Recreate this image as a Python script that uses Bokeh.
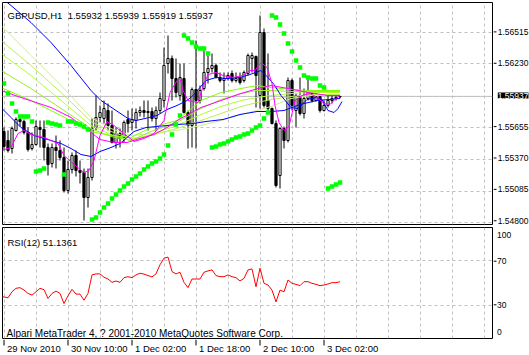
from bokeh.plotting import figure
from bokeh.layouts import column, row
from bokeh.models import Range1d, FixedTicker, Span, Label
from bokeh.embed import file_html
from bokeh.resources import INLINE

FONT = "Liberation Sans"

# ---------------- data (GBPUSD H1, bar index 0 = 29 Nov 2010 18:00) ----------------
bar_index = list(range(85))
open_ = [1.55621, 1.55540, 1.55468, 1.55630, 1.55729, 1.55711, 1.55612, 1.55468, 1.55504, 1.55657,
         1.55639, 1.55477, 1.55333, 1.55477, 1.55450, 1.55387, 1.55090, 1.55279, 1.55405, 1.55270,
         1.55252, 1.55027, 1.55207, 1.55657, 1.55747, 1.55738, 1.55810, 1.55675, 1.55522, 1.55603,
         1.55567, 1.55729, 1.55702, 1.55720, 1.55792, 1.55810, 1.55792, 1.55801, 1.55738, 1.55810,
         1.55900, 1.56233, 1.56278, 1.56098, 1.55945, 1.56098, 1.55792, 1.55675, 1.55999, 1.55900,
         1.56008, 1.56152, 1.56188, 1.56215, 1.56107, 1.56080, 1.56098, 1.56143, 1.56080, 1.56107,
         1.56080, 1.56143, 1.56278, 1.56296, 1.55945, 1.56512, 1.55900, 1.55828, 1.55693, 1.55225,
         1.55648, 1.55540, 1.56080, 1.55810, 1.55945, 1.55783, 1.55918, 1.55981, 1.55900, 1.55936,
         1.55810, 1.55855, 1.55900, 1.55927, 1.55932]
high = [1.55657, 1.55630, 1.55666, 1.55747, 1.55765, 1.55729, 1.55657, 1.55612, 1.55720, 1.55720,
        1.55720, 1.55513, 1.55513, 1.55585, 1.55540, 1.55477, 1.55360, 1.55432, 1.55450, 1.55360,
        1.55288, 1.55288, 1.55738, 1.55945, 1.55855, 1.55900, 1.55873, 1.55810, 1.55657, 1.55648,
        1.55720, 1.55810, 1.55828, 1.55828, 1.55846, 1.55900, 1.55900, 1.55837, 1.55846, 1.55972,
        1.56377, 1.56485, 1.56305, 1.56278, 1.56233, 1.56233, 1.55810, 1.56017, 1.56440, 1.56035,
        1.56350, 1.56305, 1.56323, 1.56233, 1.56152, 1.56152, 1.56152, 1.56170, 1.56152, 1.56152,
        1.56170, 1.56323, 1.56332, 1.56305, 1.56665, 1.56548, 1.56323, 1.55837, 1.55720, 1.55657,
        1.55666, 1.56107, 1.56098, 1.55963, 1.56107, 1.56008, 1.56098, 1.55990, 1.55990, 1.55945,
        1.55900, 1.55945, 1.55945, 1.55945, 1.55939]
low = [1.55450, 1.55432, 1.55423, 1.55621, 1.55666, 1.55594, 1.55441, 1.55450, 1.55495, 1.55477,
       1.55360, 1.55225, 1.55297, 1.55288, 1.55360, 1.55072, 1.55063, 1.55243, 1.55216, 1.55153,
       1.54820, 1.54937, 1.55180, 1.55630, 1.55702, 1.55693, 1.55630, 1.55513, 1.55468, 1.55477,
       1.55522, 1.55612, 1.55630, 1.55648, 1.55756, 1.55747, 1.55630, 1.55711, 1.55630, 1.55783,
       1.55837, 1.56143, 1.55900, 1.55927, 1.55900, 1.55783, 1.55468, 1.55477, 1.55468, 1.55873,
       1.55990, 1.56053, 1.56152, 1.56098, 1.56062, 1.55963, 1.56080, 1.56062, 1.56062, 1.56044,
       1.56062, 1.56125, 1.56152, 1.55837, 1.55828, 1.55837, 1.55810, 1.55684, 1.55117, 1.55108,
       1.55468, 1.55522, 1.55810, 1.55657, 1.55765, 1.55738, 1.55900, 1.55882, 1.55891, 1.55792,
       1.55801, 1.55837, 1.55873, 1.55900, 1.55919]
close = [1.55486, 1.55450, 1.55648, 1.55729, 1.55711, 1.55612, 1.55459, 1.55504, 1.55666, 1.55639,
         1.55477, 1.55324, 1.55477, 1.55450, 1.55387, 1.55090, 1.55279, 1.55405, 1.55270, 1.55252,
         1.55027, 1.55207, 1.55648, 1.55747, 1.55792, 1.55828, 1.55675, 1.55522, 1.55603, 1.55558,
         1.55702, 1.55693, 1.55729, 1.55792, 1.55810, 1.55792, 1.55801, 1.55738, 1.55810, 1.55918,
         1.56215, 1.56278, 1.56098, 1.55972, 1.56107, 1.55792, 1.55675, 1.55999, 1.55900, 1.55990,
         1.56152, 1.56188, 1.56215, 1.56107, 1.56080, 1.56098, 1.56125, 1.56080, 1.56098, 1.56062,
         1.56152, 1.56305, 1.56305, 1.56125, 1.56512, 1.55855, 1.55828, 1.55693, 1.55135, 1.55648,
         1.55540, 1.56080, 1.55855, 1.55945, 1.55783, 1.55918, 1.55981, 1.55900, 1.55936, 1.55810,
         1.55855, 1.55900, 1.55918, 1.55918, 1.55937]

# Parabolic SAR
sar = [1.56053, 1.55963, 1.55873, 1.55801, 1.55756, 1.55756, 1.55756, 1.55711, 1.55261, 1.55270,
       1.55288, 1.55702, 1.55693, 1.55684, 1.55675, 1.55234, 1.55711, 1.55711, 1.55693, 1.55684,
       1.55666, 1.55639, 1.54829, 1.54847, 1.54892, 1.54937, 1.54973, 1.55018, 1.55054, 1.55090,
       1.55126, 1.55153, 1.55189, 1.55216, 1.55243, 1.55279, 1.55306, 1.55333, 1.55351, 1.55378,
       1.55414, 1.55495, 1.55594, 1.55684, 1.55765, 1.56485, 1.56458, 1.56422, 1.56386, 1.56368,
       1.56368, 1.56323, 1.55477, 1.55486, 1.55504, 1.55513, 1.55531, 1.55549, 1.55567, 1.55576,
       1.55594, 1.55603, 1.55630, 1.55657, 1.55675, 1.55738, 1.55792, 1.56665, 1.56647, 1.56584,
       1.56503, 1.56413, 1.56341, 1.56260, 1.56197, 1.56125, 1.56107, 1.56098, 1.56098, 1.56035,
       1.56017, 1.55108, 1.55126, 1.55144, 1.55162]

# moving averages
blue_fast_bars = [-0.75, 1.75, 6.75, 11.75, 16.75, 21.75, 24.25, 28, 31, 33, 35.25, 38.25, 40.75,
                  43.25, 45.75, 47.25, 49, 50.5, 53, 55.5, 59, 61.5, 64.25, 66, 67.5, 69.25, 71.75,
                  73.5, 75.75, 78, 79.5, 81, 82.5, 83.5, 84.5]
blue_fast_vals = [1.56827, 1.56755, 1.56602, 1.56422, 1.56215, 1.55990, 1.55900, 1.55810, 1.55738,
                  1.55720, 1.55738, 1.55765, 1.55819, 1.55855, 1.55900, 1.55945, 1.56017, 1.56080,
                  1.56107, 1.56098, 1.56107, 1.56134, 1.56170, 1.56107, 1.56044, 1.55945, 1.55837,
                  1.55828, 1.55909, 1.55927, 1.55909, 1.55810, 1.55792, 1.55828, 1.55891]
blue_slow_bars = [-0.75, 1.75, 4.25, 7.5, 11.75, 14.25, 16.75, 19.25, 21.75, 24, 26.75, 29, 32.5,
                  35.5, 38.25, 43.25, 47.25, 50.5, 54.75, 59, 63.25, 66.75, 70, 74, 78.25, 84]
blue_slow_vals = [1.55837, 1.55747, 1.55657, 1.55585, 1.55540, 1.55513, 1.55468, 1.55414, 1.55396,
                  1.55441, 1.55477, 1.55513, 1.55621, 1.55657, 1.55666, 1.55684, 1.55693, 1.55711,
                  1.55729, 1.55774, 1.55801, 1.55801, 1.55810, 1.55864, 1.55900, 1.55918]
magenta_slow_bars = [-0.75, 4.25, 11.75, 16.75, 21.75, 24, 27.5, 30.75, 34, 37.5, 40.75, 43.75,
                     49.25, 54.25, 59.25, 63.5, 66.75, 71, 76, 81, 84]
magenta_slow_vals = [1.55990, 1.55927, 1.55837, 1.55747, 1.55612, 1.55549, 1.55522, 1.55522, 1.55558,
                     1.55594, 1.55657, 1.55729, 1.55837, 1.55900, 1.55963, 1.56008, 1.56035, 1.56008,
                     1.55972, 1.55945, 1.55945]
magenta_fast_bars = [-0.75, 1.75, 3.5, 5, 6.75, 10, 13.5, 15, 17.5, 20, 21.25, 22.5, 24, 25.75, 27.5,
                     29, 32.5, 35, 37.5, 40, 41.5, 43.25, 44, 44.75, 46, 48.5, 49.75, 51, 53, 54.75,
                     57.25, 59.75, 61.5, 62.75, 64.25, 65.75, 67, 67.75, 68.75, 70, 71.25, 72, 72.75,
                     74.5, 76.5, 78.25, 80, 81.5, 83.25, 84]
magenta_fast_vals = [1.55450, 1.55477, 1.55603, 1.55630, 1.55594, 1.55567, 1.55513, 1.55405, 1.55324,
                     1.55252, 1.55270, 1.55360, 1.55585, 1.55711, 1.55675, 1.55630, 1.55531, 1.55558,
                     1.55603, 1.55720, 1.55972, 1.56080, 1.56098, 1.55990, 1.55900, 1.55882, 1.56026,
                     1.56134, 1.56152, 1.56125, 1.56107, 1.56125, 1.56170, 1.56170, 1.56242, 1.56197,
                     1.56053, 1.55855, 1.55702, 1.55630, 1.55666, 1.55783, 1.55900, 1.55945, 1.55963,
                     1.55927, 1.55873, 1.55864, 1.55927, 1.55945]
fan_bars = [-0.75, 6.75, 14.25, 21.75, 26.75, 31.75, 36.75, 43.25, 49.25, 54.25, 59.25, 63.25,
            66.75, 71.75, 76.75, 84]
fan_1 = [1.56575, 1.56305, 1.56035, 1.55747, 1.55648, 1.55585, 1.55603, 1.55630, 1.55675, 1.55720,
         1.55774, 1.55810, 1.55846, 1.55918, 1.55945, 1.55945]
fan_2 = [1.56440, 1.56215, 1.55972, 1.55711, 1.55621, 1.55558, 1.55585, 1.55648, 1.55720, 1.55783,
         1.55846, 1.55882, 1.55909, 1.55936, 1.55954, 1.55954]
fan_3 = [1.56323, 1.56125, 1.55900, 1.55675, 1.55594, 1.55540, 1.55594, 1.55675, 1.55774, 1.55846,
         1.55900, 1.55927, 1.55945, 1.55963, 1.55972, 1.55972]
fan_4 = [1.56170, 1.56008, 1.55828, 1.55648, 1.55576, 1.55540, 1.55621, 1.55702, 1.55828, 1.55909,
         1.55963, 1.55990, 1.55990, 1.55981, 1.55981, 1.55981]
fan_5 = [1.56017, 1.55900, 1.55765, 1.55621, 1.55585, 1.55567, 1.55657, 1.55720, 1.55900, 1.55972,
         1.56008, 1.56035, 1.56017, 1.55999, 1.55990, 1.55990]

# RSI(12)
rsi_bars = list(range(-1, 85))
rsi_vals = [37.0, 37.5, 36.6, 42.1, 45.2, 45.8, 43.6, 40.6, 39.1, 42.1, 45.2, 44.0, 36.1, 40.6, 42.7,
            40.6, 31.5, 38.5, 44.3, 40.0, 40.0, 34.5, 40.6, 57.3, 58.2, 58.2, 55.2, 53.6, 50.6, 51.8,
            50.6, 54.8, 55.7, 54.8, 57.3, 58.8, 58.0, 56.7, 55.5, 58.2, 66.4, 72.4, 73.3, 60.3, 58.2,
            59.7, 50.6, 45.8, 53.6, 53.6, 53.6, 59.7, 60.9, 61.8, 56.7, 55.7, 55.7, 57.3, 55.7, 54.8,
            51.8, 54.2, 61.8, 62.7, 46.6, 63.3, 49.7, 48.2, 43.6, 33.0, 43.6, 42.1, 52.7, 49.7, 48.8,
            47.6, 51.2, 51.2, 49.7, 48.8, 47.6, 48.2, 49.1, 50.3, 50.3, 51.1361]

time_tick_bars = [0, 16, 32, 48, 64, 80]
time_tick_labels = ["29 Nov 2010", "30 Nov 10:00", "1 Dec 02:00", "1 Dec 18:00",
                    "2 Dec 10:00", "3 Dec 02:00"]
price_ticks = [1.54800, 1.55085, 1.55370, 1.55655, 1.56230, 1.56515]
price_grid = [1.54800, 1.55085, 1.55370, 1.55655, 1.55940, 1.56230, 1.56515]
rsi_levels = [30, 70]
bid = 1.55937
title_text = "GBPUSD,H1\u00a0\u00a01.55932 1.55939 1.55919 1.55937"
rsi_title = "RSI(12) 51.1361"
copyright_text = "Alpari MetaTrader 4, ? 2001-2010 MetaQuotes Software Corp."

# ---------------- figures ----------------
X0, X1 = -0.375, 122.125          # 4 px per bar over a 490 px frame
Y0, Y1 = 1.54784, 1.56782         # main frame, 222 px
GRID = "#c0c0c0"
W_SIDE = 36
SCALE_FONT = "8.5px"


def bare(fig):
    fig.background_fill_color = "white"
    fig.border_fill_color = "white"
    fig.grid.visible = False
    fig.outline_line_color = None
    return fig


def panel(fig, xticks):
    fig.background_fill_color = "white"
    fig.border_fill_color = "white"
    fig.outline_line_color = "black"
    fig.outline_line_alpha = 1
    fig.outline_line_width = 1
    fig.xgrid[0].ticker = FixedTicker(ticks=xticks)
    for g in (fig.xgrid[0], fig.ygrid[0]):
        g.grid_line_color = GRID
        g.grid_line_dash = "3 3"
        g.grid_line_alpha = 1


def lbl(fig, x, y, text, size="10px", color="black", baseline="alphabetic", align="left", **kw):
    fig.add_layout(Label(x=x, y=y, text=text, text_font=FONT, text_font_size=size,
                         text_color=color, text_align=align, text_baseline=baseline, **kw))


vgrid = list(range(0, 124, 8))

# --- main price panel ---
p = figure(width=529 - W_SIDE, height=226, x_range=Range1d(X0, X1), y_range=Range1d(Y0, Y1),
           x_axis_location=None, y_axis_location=None, output_backend="svg",
           toolbar_location=None, min_border_left=2, min_border_right=1,
           min_border_top=2, min_border_bottom=2)
panel(p, vgrid)
p.ygrid[0].ticker = FixedTicker(ticks=price_grid)
p.add_layout(Span(location=bid, dimension="width", line_color="#c0c0c0", line_width=1,
                  level="underlay"))

p.segment(x0=bar_index, y0=low, x1=bar_index, y1=high, line_color="black", line_width=1)
up = [i for i in bar_index if close[i] >= open_[i]]
dn = [i for i in bar_index if close[i] < open_[i]]
p.vbar(x=up, width=0.55, top=[close[i] for i in up], bottom=[open_[i] for i in up],
       fill_color="white", line_color="black", line_width=1)
p.vbar(x=dn, width=0.55, top=[open_[i] for i in dn], bottom=[close[i] for i in dn],
       fill_color="black", line_color="black", line_width=1)

fan_colors = ["#ccee88", "#bbee55", "#adff2f", "#99ee22", "#80ff00"]
for vals, col in zip([fan_1, fan_2, fan_3, fan_4, fan_5], fan_colors):
    p.line(fan_bars, vals, line_color=col, line_width=1)
p.line(blue_slow_bars, blue_slow_vals, line_color="#0000ff", line_width=1)
p.line(blue_fast_bars, blue_fast_vals, line_color="#0000ff", line_width=1)
p.line(magenta_slow_bars, magenta_slow_vals, line_color="#ff00ff", line_width=1)
p.line(magenta_fast_bars, magenta_fast_vals, line_color="#ff00ff", line_width=1)
p.scatter(bar_index, sar, marker="square", size=4.5, fill_color="#00ff00", line_color=None)

lbl(p, X0, Y1, title_text, size="9.5px", y_offset=-13, x_offset=5)

# --- price scale at right (own strip so the bid box is not clipped) ---
ps = bare(figure(width=W_SIDE, height=226, x_range=Range1d(0, W_SIDE),
                 y_range=Range1d(1.54766, Y1), x_axis_location=None, y_axis_location=None,
                 output_backend="svg", toolbar_location=None, min_border=0,
                 min_border_top=2, min_border_bottom=0))
ps.segment(x0=[0] * len(price_ticks), y0=price_ticks, x1=[3] * len(price_ticks), y1=price_ticks,
           line_color="black", line_width=1)
for v in price_ticks:
    lbl(ps, W_SIDE, v, f"{v:.5f}", size=SCALE_FONT, baseline="middle", align="right",
        x_offset=-1)
lbl(ps, W_SIDE, bid, f"{bid:.5f}", size=SCALE_FONT, color="white", baseline="middle",
    align="right", background_fill_color="black", x_offset=-1)

# --- RSI panel ---
r = figure(width=529 - W_SIDE, height=113, x_range=p.x_range, y_range=Range1d(0, 100),
           x_axis_location=None, y_axis_location=None, output_backend="svg",
           toolbar_location=None, min_border_left=2, min_border_right=1,
           min_border_top=1, min_border_bottom=1)
panel(r, vgrid)
r.ygrid[0].ticker = FixedTicker(ticks=rsi_levels)
r.line(rsi_bars, rsi_vals, line_color="#ff0000", line_width=1)
lbl(r, X0, 100, rsi_title, size="9.5px", y_offset=-15, x_offset=5)
lbl(r, X0, 0, copyright_text, y_offset=5, x_offset=4)

# --- RSI scale strip (frame spans 226..339 => values -0.9..100.9) ---
rs = bare(figure(width=W_SIDE, height=113, x_range=Range1d(0, W_SIDE),
                 y_range=Range1d(-0.9, 100.9), x_axis_location=None, y_axis_location=None,
                 output_backend="svg", toolbar_location=None, min_border=0))
rs.segment(x0=[0, 0], y0=rsi_levels, x1=[3, 3], y1=rsi_levels, line_color="black", line_width=1)
lbl(rs, 3.5, 93.7, "100", size=SCALE_FONT, baseline="middle")
lbl(rs, 3.5, 70, "70", size=SCALE_FONT, baseline="middle")
lbl(rs, 3.5, 30, "30", size=SCALE_FONT, baseline="middle")
lbl(rs, 3.5, 5.4, "0", size=SCALE_FONT, baseline="middle")

# --- time scale strip ---
t = bare(figure(width=529, height=16, x_range=p.x_range, y_range=Range1d(0, 16),
                x_axis_location=None, y_axis_location=None, output_backend="svg",
                toolbar_location=None, min_border=0, min_border_left=2, min_border_right=37))
t.segment(x0=time_tick_bars, y0=[16] * 6, x1=time_tick_bars, y1=[10] * 6,
          line_color="black", line_width=1)
for b, txt in zip(time_tick_bars, time_tick_labels):
    lbl(t, b, 7, txt, size="9.5px", x_offset=3)

layout = column(row(p, ps, spacing=0), row(r, rs, spacing=0), t, spacing=0)
open("out.html", "w").write(file_html(layout, INLINE))
